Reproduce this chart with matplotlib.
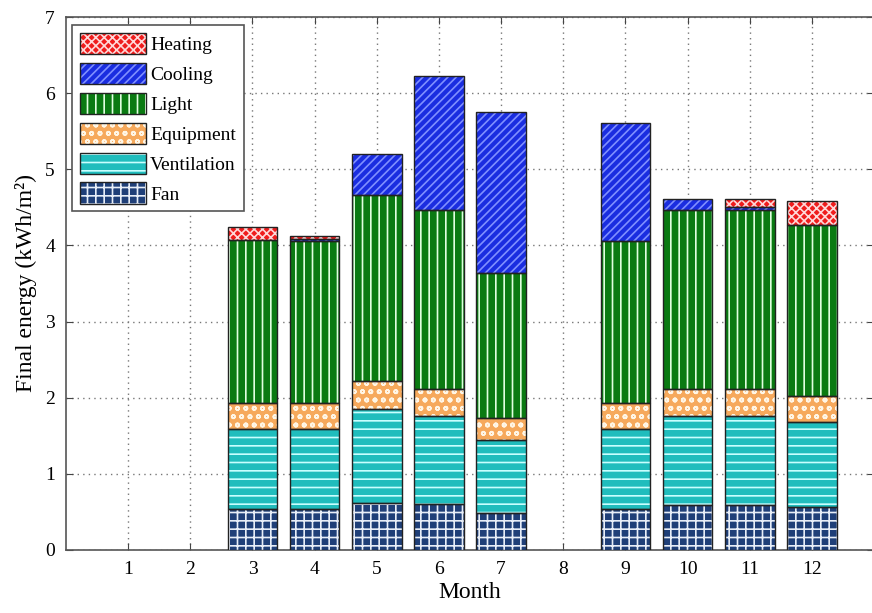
import matplotlib
matplotlib.use("Agg")
import matplotlib.pyplot as plt
from matplotlib.patches import Patch
from matplotlib.legend_handler import HandlerTuple
import numpy as np

plt.rcParams['font.family'] = ['Liberation Serif', 'DejaVu Serif']
plt.rcParams['hatch.linewidth'] = 1.2

months = [1, 2, 3, 4, 5, 6, 7, 8, 9, 10, 11, 12]
fan = [0, 0, 0.54, 0.54, 0.62, 0.60, 0.48, 0, 0.54, 0.59, 0.59, 0.56]
ventilation = [0, 0, 1.05, 1.05, 1.23, 1.16, 0.96, 0, 1.05, 1.17, 1.17, 1.12]
equipment = [0, 0, 0.34, 0.34, 0.37, 0.36, 0.30, 0, 0.34, 0.35, 0.35, 0.34]
light = [0, 0, 2.14, 2.13, 2.44, 2.34, 1.90, 0, 2.13, 2.35, 2.35, 2.25]
cooling = [0, 0, 0, 0.02, 0.54, 1.77, 2.11, 0, 1.55, 0.15, 0.05, 0]
heating = [0, 0, 0.17, 0.05, 0, 0, 0, 0, 0, 0, 0.10, 0.31]

series = [
    ("Fan", fan, "#1f3f78", "++"),
    ("Ventilation", ventilation, "#20bdbd", "--"),
    ("Equipment", equipment, "#f6a95c", "oo"),
    ("Light", light, "#0a7a12", "||"),
    ("Cooling", cooling, "#1a2de0", "////"),
    ("Heating", heating, "#ef1c1c", "xxxx"),
]
hatch_colors = {"Fan": "#e8eef8", "Ventilation": "#c8ffff", "Equipment": "#fff6e6",
                "Light": "#e0ffe0", "Cooling": "#8090ff", "Heating": "#ffd8d8"}

fig = plt.figure(figsize=(8.72, 6.13), dpi=100)
ax = fig.add_axes([66/872, 1-550/613, (874-66)/872, (550-17)/613])

x = np.array(months, dtype=float)
bottom = np.zeros(len(months))
handles = {}
for name, vals, col, hatch in series:
    v = np.array(vals, dtype=float)
    m = v > 0
    ax.bar(x[m], v[m], 0.8, bottom=bottom[m], color=col, hatch=hatch,
           edgecolor=hatch_colors[name], linewidth=0, zorder=3)
    ax.bar(x[m], v[m], 0.8, bottom=bottom[m], fill=False, edgecolor="#222222",
           linewidth=1.0, zorder=4)
    handles[name] = (Patch(facecolor=col, hatch=hatch, edgecolor=hatch_colors[name], linewidth=0),
                     Patch(fill=False, edgecolor="#222222", linewidth=1.0))
    bottom += v

ax.set_xlim(0, 13)
ax.set_ylim(0, 7)
ax.set_xticks(months)
ax.set_yticks(range(0, 8))
ax.tick_params(direction='in', top=True, right=True, labelsize=14, length=5,
               color="#444444", pad=8)
ax.grid(True, linestyle=(0, (1, 3)), color="#777777", linewidth=1.0, zorder=0)
for s in ax.spines.values():
    s.set_color("#555555")
    s.set_linewidth(1.2)

ax.set_xlabel("Month", fontsize=17, labelpad=3)
ax.set_ylabel("Final energy (kWh/m²)", fontsize=17, labelpad=6)

order = ["Heating", "Cooling", "Light", "Equipment", "Ventilation", "Fan"]
leg = ax.legend([handles[n] for n in order], order,
                handler_map={tuple: HandlerTuple(ndivide=1, pad=0)},
                loc="upper left", bbox_to_anchor=(0.008, 0.985), fontsize=14,
                handlelength=3.4, handleheight=1.3, labelspacing=0.45,
                handletextpad=0.2, borderpad=0.4, borderaxespad=0.0,
                fancybox=False, framealpha=1, edgecolor="#555555")
leg.get_frame().set_linewidth(1.2)

fig.savefig("out.png", dpi=100)
